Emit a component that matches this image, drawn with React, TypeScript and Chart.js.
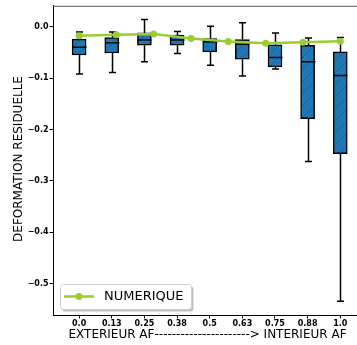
import React, { useEffect, useRef } from "react";
import { Chart, registerables } from "chart.js";

Chart.register(...registerables);

const categories = ["0.0", "0.13", "0.25", "0.38", "0.5", "0.63", "0.75", "0.88", "1.0"];
const boxPositions = [0, 1, 2, 3, 4, 5, 6, 7, 8];
const whiskerHigh = [-0.010, -0.010, 0.014, -0.009, 0.001, 0.008, -0.012, -0.022, -0.021];
const q3 = [-0.024, -0.021, -0.012, -0.016, -0.023, -0.025, -0.035, -0.036, -0.049];
const medians = [-0.040, -0.031, -0.026, -0.026, -0.029, -0.034, -0.060, -0.068, -0.095];
const q1 = [-0.055, -0.051, -0.036, -0.036, -0.049, -0.063, -0.078, -0.179, -0.247];
const whiskerLow = [-0.092, -0.089, -0.068, -0.052, -0.075, -0.096, -0.082, -0.262, -0.534];

const numeriquePositions = [0, 1.143, 2.286, 3.429, 4.571, 5.714, 6.857, 8];
const numerique = [-0.0175, -0.0155, -0.014, -0.023, -0.0285, -0.032, -0.030, -0.028];

const yTicks = [0, -0.1, -0.2, -0.3, -0.4, -0.5];
const yTitle = "DEFORMATION RESIDUELLE";
const xTitle = "EXTERIEUR AF----------------------> INTERIEUR AF";
const legendLabel = "NUMERIQUE";

const BLUE = "#1f77b4";
const GREEN = "#9acd32";
const FONT = "'DejaVu Sans', sans-serif";

function makeHatch(): CanvasPattern | string {
  const c = document.createElement("canvas");
  c.width = 12;
  c.height = 12;
  const g = c.getContext("2d");
  if (!g) return BLUE;
  g.fillStyle = BLUE;
  g.fillRect(0, 0, 12, 12);
  g.strokeStyle = "rgba(10,40,70,0.35)";
  g.lineWidth = 0.8;
  g.beginPath();
  g.moveTo(-1, 13);
  g.lineTo(13, -1);
  g.moveTo(-7, 7);
  g.lineTo(7, -7);
  g.moveTo(5, 19);
  g.lineTo(19, 5);
  g.stroke();
  const p = g.createPattern(c, "repeat");
  return p || BLUE;
}

const boxPlugin = {
  id: "boxExtras",
  afterDatasetDraw(chart: any, args: any) {
    if (args.index !== 0) return;
    const ctx = chart.ctx;
    const xs = chart.scales.x;
    const ys = chart.scales.y;
    ctx.save();
    ctx.strokeStyle = "#000";
    ctx.lineWidth = 1.5;
    boxPositions.forEach((pos, i) => {
      const cx = Math.round(xs.getPixelForValue(pos)) + 0.5;
      const yHi = ys.getPixelForValue(whiskerHigh[i]);
      const yQ3 = ys.getPixelForValue(q3[i]);
      const yQ1 = ys.getPixelForValue(q1[i]);
      const yLo = ys.getPixelForValue(whiskerLow[i]);
      const yMed = ys.getPixelForValue(medians[i]);
      ctx.beginPath();
      ctx.moveTo(cx, yQ3);
      ctx.lineTo(cx, yHi);
      ctx.moveTo(cx - 3.5, yHi);
      ctx.lineTo(cx + 3.5, yHi);
      ctx.moveTo(cx, yQ1);
      ctx.lineTo(cx, yLo);
      ctx.moveTo(cx - 3.5, yLo);
      ctx.lineTo(cx + 3.5, yLo);
      ctx.moveTo(cx - 7, yMed);
      ctx.lineTo(cx + 7, yMed);
      ctx.stroke();
    });
    ctx.restore();
  },
  afterDraw(chart: any) {
    const ctx = chart.ctx;
    const area = chart.chartArea;
    ctx.save();
    // top spine
    ctx.strokeStyle = "#555";
    ctx.lineWidth = 1;
    ctx.beginPath();
    ctx.moveTo(area.left, area.top + 0.5);
    ctx.lineTo(chart.width, area.top + 0.5);
    ctx.stroke();
    // bottom spine extension to the cropped right edge
    const yb = chart.scales.x.top;
    ctx.strokeStyle = "#000";
    ctx.beginPath();
    ctx.moveTo(area.right - 1, Math.round(yb) + 0.5);
    ctx.lineTo(chart.width, Math.round(yb) + 0.5);
    ctx.stroke();

    // axis titles
    ctx.fillStyle = "#000";
    ctx.font = `12px ${FONT}`;
    ctx.textAlign = "center";
    ctx.textBaseline = "middle";
    ctx.save();
    ctx.translate(19, 159);
    ctx.rotate(-Math.PI / 2);
    ctx.fillText(yTitle, 0, 0);
    ctx.restore();
    ctx.fillText(xTitle, 207.5, 334.5);

    // legend
    const lx = 60.5, ly = 284.5, lw = 131, lh = 25;
    ctx.fillStyle = "rgba(0,0,0,0.25)";
    ctx.beginPath();
    ctx.roundRect(lx + 2, ly + 2, lw, lh, 3);
    ctx.fill();
    ctx.fillStyle = "#fff";
    ctx.strokeStyle = "#cccccc";
    ctx.lineWidth = 1;
    ctx.beginPath();
    ctx.roundRect(lx, ly, lw, lh, 3);
    ctx.fill();
    ctx.stroke();
    ctx.strokeStyle = GREEN;
    ctx.lineWidth = 2.5;
    ctx.beginPath();
    ctx.moveTo(64, 296.5);
    ctx.lineTo(94, 296.5);
    ctx.stroke();
    ctx.fillStyle = GREEN;
    ctx.beginPath();
    ctx.arc(79, 296.5, 3.5, 0, Math.PI * 2);
    ctx.fill();
    ctx.fillStyle = "#000";
    ctx.font = `13px ${FONT}`;
    ctx.textAlign = "left";
    ctx.fillText(legendLabel, 104, 297);
    ctx.restore();
  },
};

export default function App() {
  const ref = useRef<HTMLCanvasElement | null>(null);
  useEffect(() => {
    if (!ref.current) return;
    const hatch = makeHatch();
    const chart = new Chart(ref.current, {
      type: "bar",
      data: {
        datasets: [
          {
            type: "bar",
            label: "boxes",
            data: boxPositions.map((p, i) => ({ x: p, y: [q1[i], q3[i]] })) as any,
            backgroundColor: hatch as any,
            borderColor: "#000",
            borderWidth: 1.5,
            borderSkipped: false,
            barThickness: 14,
            order: 2,
          },
          {
            type: "line",
            label: legendLabel,
            data: numeriquePositions.map((p, i) => ({ x: p, y: numerique[i] })) as any,
            borderColor: GREEN,
            backgroundColor: GREEN,
            borderWidth: 2.5,
            pointRadius: 3.5,
            pointBorderWidth: 0,
            pointBackgroundColor: GREEN,
            order: 1,
          },
        ],
      },
      options: {
        animation: false,
        responsive: false,
        devicePixelRatio: 1,
        layout: { padding: { top: 5, left: 0, right: 0, bottom: 0 } },
        plugins: { legend: { display: false }, tooltip: { enabled: false } },
        scales: {
          x: {
            type: "linear",
            offset: false,
            min: -0.8,
            max: 8.39,
            afterBuildTicks: (s: any) => {
              s.ticks = boxPositions.map((v) => ({ value: v }));
            },
            afterFit: (s: any) => {
              s.height = 30;
              s.paddingRight = 0;
              s.paddingLeft = 0;
            },
            ticks: {
              callback: (_v: any, i: number) => categories[i],
              font: { family: FONT, weight: "bold", size: 8 },
              color: "#000",
              padding: 1,
              maxRotation: 0,
              autoSkip: false,
            },
            grid: { display: true, drawOnChartArea: false, drawTicks: true, tickLength: 3.5, color: "#000", offset: false },
            border: { display: true, color: "#000", width: 1 },
          },
          y: {
            type: "linear",
            min: -0.561,
            max: 0.0408,
            afterBuildTicks: (s: any) => {
              s.ticks = yTicks.map((v) => ({ value: v }));
            },
            afterFit: (s: any) => {
              s.width = 53;
            },
            ticks: {
              callback: (v: any) => (Number(v) === 0 ? "0.0" : Number(v).toFixed(1).replace("-", "\u2212")),
              font: { family: FONT, weight: "bold", size: 8 },
              color: "#000",
              padding: 1,
            },
            grid: { display: true, drawOnChartArea: false, drawTicks: true, tickLength: 3.5, color: "#000" },
            border: { display: true, color: "#000", width: 1 },
          },
        },
      },
      plugins: [boxPlugin],
    } as any);
    return () => chart.destroy();
  }, []);
  return (
    <div style={{ position: "fixed", left: 0, top: 0, width: 357, height: 345, background: "#fff" }}>
      <canvas ref={ref} width={357} height={345} style={{ display: "block" }} />
    </div>
  );
}
